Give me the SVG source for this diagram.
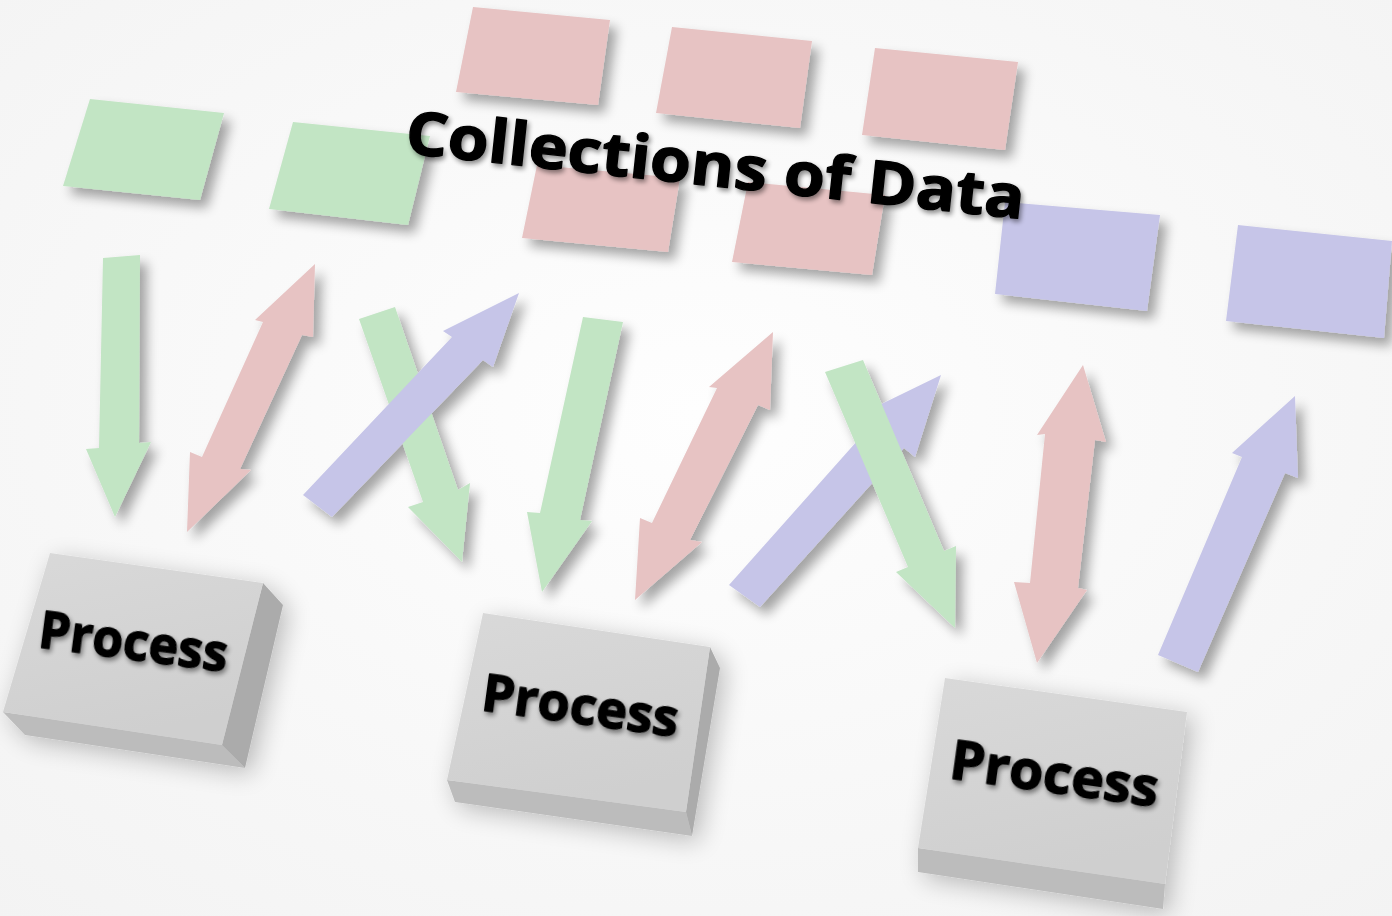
<svg xmlns="http://www.w3.org/2000/svg" width="1392" height="916" viewBox="0 0 1392 916">
  <defs>
    <radialGradient id="bg" cx="50%" cy="45%" r="75%">
      <stop offset="0" stop-color="#fefefe"/>
      <stop offset="1" stop-color="#f3f3f3"/>
    </radialGradient>
    <linearGradient id="topface" x1="0" y1="0" x2="0.3" y2="1">
      <stop offset="0" stop-color="#d9d9d9"/>
      <stop offset="1" stop-color="#cfcfcf"/>
    </linearGradient>
    <filter id="sh" x="-30%" y="-30%" width="170%" height="170%">
      <feGaussianBlur in="SourceAlpha" stdDeviation="6"/>
      <feOffset dx="7" dy="8"/>
      <feComponentTransfer><feFuncA type="linear" slope="0.35"/></feComponentTransfer>
      <feMerge><feMergeNode/><feMergeNode in="SourceGraphic"/></feMerge>
    </filter>
    <filter id="boxsh" x="-30%" y="-30%" width="160%" height="160%">
      <feGaussianBlur in="SourceAlpha" stdDeviation="12"/>
      <feOffset dx="6" dy="6"/>
      <feComponentTransfer><feFuncA type="linear" slope="0.25"/></feComponentTransfer>
      <feMerge><feMergeNode/><feMergeNode in="SourceGraphic"/></feMerge>
    </filter>
    <filter id="tsh" x="-10%" y="-30%" width="120%" height="160%">
      <feGaussianBlur in="SourceAlpha" stdDeviation="2.5"/>
      <feOffset dx="2" dy="3"/>
      <feComponentTransfer><feFuncA type="linear" slope="0.45"/></feComponentTransfer>
      <feMerge><feMergeNode/><feMergeNode in="SourceGraphic"/></feMerge>
    </filter>
  </defs>
  <style>
    .green { fill: #c2e5c4; }
    .pink { fill: #e7c3c3; }
    .blue { fill: #c6c5e8; }
    .top { fill: url(#topface); }
    .side { fill: #ababab; }
    .front { fill: #bcbcbc; }
    .label { font-family: "Open Sans", "Liberation Sans", sans-serif; font-weight: 700; fill: #000; stroke: #000; stroke-width: 1.3; stroke-linejoin: round; }
  </style>

  <rect x="0" y="0" width="1392" height="916" fill="url(#bg)"/>

  <!-- data collections -->
  <g id="data-green-1" filter="url(#sh)"><polygon class="green" points="90,99 224,113 200,200 63,186"/></g>
  <g id="data-green-2" filter="url(#sh)"><polygon class="green" points="293,122 430,136 408,225 269,209"/></g>
  <g id="data-pink-1" filter="url(#sh)"><polygon class="pink" points="473,7 610,20 598,105 456,92"/></g>
  <g id="data-pink-2" filter="url(#sh)"><polygon class="pink" points="672,27 812,41 800,128 656,113"/></g>
  <g id="data-pink-3" filter="url(#sh)"><polygon class="pink" points="875,48 1018,62 1005,150 862,135"/></g>
  <g id="data-pink-4" filter="url(#sh)"><polygon class="pink" points="537,165 680,178 668,252 522,238"/></g>
  <g id="data-pink-5" filter="url(#sh)"><polygon class="pink" points="748,182 885,195 872,275 732,262"/></g>
  <g id="data-blue-1" filter="url(#sh)"><polygon class="blue" points="1005,202 1160,215 1147,311 995,294"/></g>
  <g id="data-blue-2" filter="url(#sh)"><polygon class="blue" points="1238,225 1392,241 1384,338 1226,321"/></g>

  <g id="title" filter="url(#tsh)">
    <text class="label" x="404" y="153" font-size="60" textLength="622" lengthAdjust="spacingAndGlyphs" transform="rotate(6.1 404 153)">Collections of Data</text>
  </g>

  <!-- connectors -->
  <g id="connectors" filter="url(#sh)">
    <polygon class="green" points="103,258 140,255 139,443 151,442 115,517 86,449 99,448"/>
    <polygon class="pink" points="315,264 313,337 302,335 240,469 251,470 187,532 190,452 202,457 263,322 255,320"/>
    <polygon class="green" points="359,319 395,307 458,490 470,483 462,562 408,507 423,502"/>
    <polygon class="blue" points="519,293 493,367 483,360 332,517 303,495 452,337 443,331"/>
    <polygon class="green" points="583,317 623,322 580,520 592,521 542,592 527,512 540,513"/>
    <polygon class="pink" points="773,332 770,410 758,405 690,540 702,542 635,600 640,518 652,523 717,388 709,387"/>
    <polygon class="blue" points="941,375 915,457 904,448 760,607 729,585 874,422 863,413"/>
    <polygon class="green" points="825,372 863,360 944,551 956,546 955,628 896,572 908,567"/>
    <polygon class="pink" points="1083,365 1106,442 1095,440 1078,588 1087,590 1037,663 1014,582 1030,583 1045,434 1037,435"/>
    <polygon class="blue" points="1295,396 1298,478 1285,473 1198,672 1158,655 1242,457 1232,453"/>
  </g>

  <!-- process boxes -->
  <g id="process-1" filter="url(#boxsh)">
    <polygon class="front" points="3,712 222,745 245,768 25,735"/>
    <polygon class="side" points="263,583 283,605 245,768 222,745"/>
    <polygon class="top" points="50,553 263,583 222,745 3,712"/>
    <text class="label" x="37" y="647" font-size="52" textLength="190" lengthAdjust="spacingAndGlyphs" transform="rotate(7.5 37 647)" filter="url(#tsh)">Process</text>
  </g>
  <g id="process-2" filter="url(#boxsh)">
    <polygon class="front" points="447,780 686,812 692,836 455,802"/>
    <polygon class="side" points="710,647 720,668 692,836 686,812"/>
    <polygon class="top" points="483,613 710,647 686,812 447,780"/>
    <text class="label" x="480" y="710" font-size="52" textLength="198" lengthAdjust="spacingAndGlyphs" transform="rotate(7.8 480 710)" filter="url(#tsh)">Process</text>
  </g>
  <g id="process-3" filter="url(#boxsh)">
    <polygon class="front" points="918,848 1165,884 1163,909 918,872"/>
    <polygon class="top" points="945,678 1187,712 1165,884 918,848"/>
    <text class="label" x="948" y="778" font-size="54" textLength="210" lengthAdjust="spacingAndGlyphs" transform="rotate(7.9 948 778)" filter="url(#tsh)">Process</text>
  </g>
</svg>
